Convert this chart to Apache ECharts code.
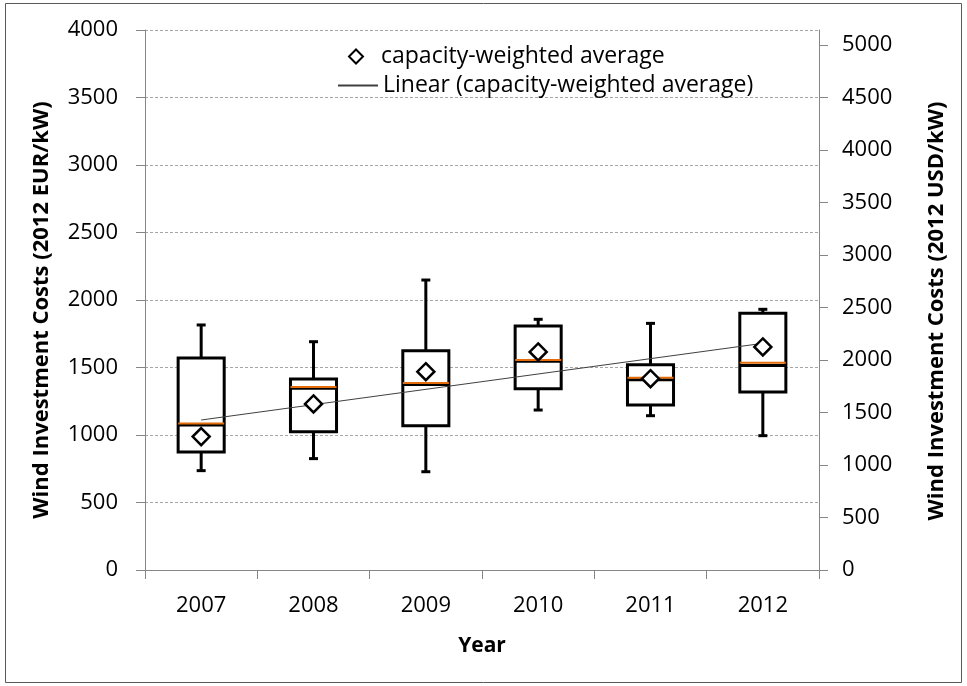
<!DOCTYPE html>
<html>
<head>
<meta charset="utf-8">
<script src="https://cdn.jsdelivr.net/npm/echarts@6/dist/echarts.min.js"></script>
<style>
html,body{margin:0;padding:0;background:#fff;}
#chart{width:967px;height:686px;}
</style>
</head>
<body>
<div id="chart"></div>
<script>
// ---- data ----
const categories = ['2007', '2008', '2009', '2010', '2011', '2012'];
const whiskerLow  = [736, 825, 728, 1185, 1143, 995];
const boxLow      = [874, 1025, 1069, 1343, 1222, 1319];
const medianBlack = [1075, 1346, 1375, 1546, 1410, 1515];
const boxHigh     = [1570, 1415, 1625, 1807, 1521, 1901];
const whiskerHigh = [1815, 1691, 2148, 1857, 1827, 1931];
const medianOrange = [1086, 1356, 1385, 1556, 1425, 1536];
const weightedAvg = [988, 1230, 1469, 1615, 1417, 1652];
const trendCats = ['2007', '2012'];
const trendVals = [1111, 1679];
const leftTicks = { min: 0, max: 4000, interval: 500 };
const usdPerEur = 5142.857 / 4000; // right axis: 0..5000 USD on same plot height
const rightTicks = { min: 0, max: 4000 * usdPerEur, interval: 500 };

const boxRows = categories.map((c, i) => [i, whiskerLow[i], boxLow[i], medianBlack[i], boxHigh[i], whiskerHigh[i], medianOrange[i]]);

const FONT = 'Open Sans';

function renderBox(params, api) {
  const xi = api.value(0);
  const band = api.size([1, 0])[0];
  const w = band * 0.41;
  const cap = 9;
  const pWL = api.coord([xi, api.value(1)]);
  const pBL = api.coord([xi, api.value(2)]);
  const pMd = api.coord([xi, api.value(3)]);
  const pBH = api.coord([xi, api.value(4)]);
  const pWH = api.coord([xi, api.value(5)]);
  const pOr = api.coord([xi, api.value(6)]);
  const cx = pWL[0];
  const st = { stroke: '#000', lineWidth: 3, fill: null };
  return {
    type: 'group',
    children: [
      { type: 'line', shape: { x1: cx, y1: pWL[1], x2: cx, y2: pBL[1] }, style: st },
      { type: 'line', shape: { x1: cx, y1: pBH[1], x2: cx, y2: pWH[1] }, style: st },
      { type: 'line', shape: { x1: cx - cap / 2, y1: pWL[1], x2: cx + cap / 2, y2: pWL[1] }, style: st },
      { type: 'line', shape: { x1: cx - cap / 2, y1: pWH[1], x2: cx + cap / 2, y2: pWH[1] }, style: st },
      { type: 'rect', shape: { x: cx - w / 2, y: pBH[1], width: w, height: pBL[1] - pBH[1] },
        style: { stroke: '#000', lineWidth: 3, fill: '#fff' } },
      { type: 'line', shape: { x1: cx - w / 2, y1: pMd[1], x2: cx + w / 2, y2: pMd[1] }, style: st },
      { type: 'line', shape: { x1: cx - w / 2, y1: pOr[1], x2: cx + w / 2, y2: pOr[1] },
        style: { stroke: '#E46C0A', lineWidth: 2 } }
    ]
  };
}

const plain = v => String(Math.round(v));

const chart = echarts.init(document.getElementById('chart'), null, { renderer: 'canvas' });
chart.setOption({
  animation: false,
  backgroundColor: '#fff',
  textStyle: { fontFamily: FONT },
  grid: { left: 145, right: 148, top: 30, bottom: 116, containLabel: false },
  graphic: [{
    type: 'rect', silent: true, z: -10,
    shape: { x: 5.5, y: 3.5, width: 956, height: 679 },
    style: { fill: null, stroke: '#595959', lineWidth: 1 }
  }],
  legend: [{
    data: ['capacity-weighted average'],
    left: 343, top: 40,
    itemWidth: 14, itemHeight: 14,
    textStyle: { fontFamily: FONT, fontSize: 23, color: '#000', padding: [0, 0, 0, 13] },
    selectedMode: false
  }, {
    data: ['Linear (capacity-weighted average)'],
    left: 332, top: 69,
    itemWidth: 40, itemHeight: 14,
    itemStyle: { color: 'rgba(0,0,0,0)', borderWidth: 0, opacity: 0 },
    textStyle: { fontFamily: FONT, fontSize: 23, color: '#000' },
    selectedMode: false
  }],
  xAxis: {
    type: 'category',
    data: categories,
    boundaryGap: true,
    name: 'Year',
    nameLocation: 'middle',
    nameGap: 66,
    nameTextStyle: { fontFamily: FONT, fontSize: 21, fontWeight: 'bold', color: '#000' },
    axisLine: { lineStyle: { color: '#868686', width: 1 } },
    axisTick: { show: true, interval: 0, length: 9, lineStyle: { color: '#868686' } },
    axisLabel: { fontFamily: FONT, fontSize: 22, color: '#000', margin: 25 },
    splitLine: { show: false }
  },
  yAxis: [{
    type: 'value',
    position: 'left',
    min: leftTicks.min, max: leftTicks.max, interval: leftTicks.interval,
    name: 'Wind Investment Costs (2012 EUR/kW)',
    nameLocation: 'middle',
    nameRotate: 90,
    nameGap: 92,
    nameTextStyle: { fontFamily: FONT, fontSize: 22, fontWeight: 'bold', color: '#000', padding: [0, 20, 0, 0] },
    axisLine: { show: true, lineStyle: { color: '#868686', width: 1 } },
    axisTick: { show: true, length: 9, lineStyle: { color: '#868686' } },
    axisLabel: { fontFamily: FONT, fontSize: 22, color: '#000', margin: 27, formatter: plain },
    splitLine: { show: true, lineStyle: { color: '#A6A6A6', type: [3, 2], width: 1 } }
  }, {
    type: 'value',
    position: 'right',
    min: rightTicks.min, max: rightTicks.max, interval: rightTicks.interval,
    name: 'Wind Investment Costs (2012 USD/kW)',
    nameLocation: 'middle',
    nameRotate: 90,
    nameGap: 107,
    nameTextStyle: { fontFamily: FONT, fontSize: 22, fontWeight: 'bold', color: '#000', padding: [0, 22, 0, 0] },
    axisLine: { show: true, lineStyle: { color: '#868686', width: 1 } },
    axisTick: { show: true, length: 9, lineStyle: { color: '#868686' } },
    axisLabel: { fontFamily: FONT, fontSize: 22, color: '#000', margin: 23, showMaxLabel: false, formatter: plain },
    splitLine: { show: false }
  }],
  series: [{
    type: 'custom',
    name: 'box',
    renderItem: renderBox,
    data: boxRows,
    encode: { x: 0, y: [1, 2, 3, 4, 5, 6] },
    z: 2,
    silent: true
  }, {
    type: 'line',
    name: 'Linear (capacity-weighted average)',
    data: trendCats.map((c, i) => [c, trendVals[i]]),
    symbol: 'none',
    lineStyle: { color: '#404040', width: 1 },
    itemStyle: { color: '#404040' },
    z: 3,
    silent: true
  }, {
    type: 'scatter',
    name: 'capacity-weighted average',
    data: weightedAvg,
    symbol: 'diamond',
    symbolSize: 17,
    itemStyle: { color: '#fff', borderColor: '#000', borderWidth: 2.5, opacity: 1 },
    z: 4,
    silent: true
  }]
});
</script>
</body>
</html>
